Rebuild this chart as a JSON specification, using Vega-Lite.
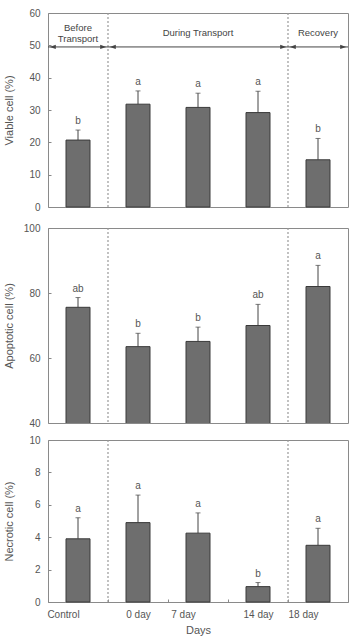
{
  "$schema": "https://vega.github.io/schema/vega-lite/v6.json",
  "padding": {"top": 7, "left": 2, "right": 3, "bottom": 0},
  "config": {
    "font": "Liberation Sans",
    "view": {"stroke": "#8a8a8a", "strokeWidth": 1},
    "axis": {
      "labelFont": "Liberation Sans",
      "labelFontSize": 10,
      "labelColor": "#555555",
      "titleFont": "Liberation Sans",
      "titleFontSize": 11,
      "titleFontWeight": "normal",
      "titleColor": "#555555",
      "grid": false,
      "domain": false,
      "tickColor": "#888888",
      "tickSize": -3,
      "labelOverlap": false
    },
    "axisY": {"labelPadding": 11, "titlePadding": 8, "minExtent": 26, "maxExtent": 26},
    "axisX": {"labelPadding": 10, "titlePadding": 5}
  },
  "datasets": {
    "cells": [
      {"cell": "Viable", "day": "Control", "mean": 20.7, "upper": 23.8, "group": "b"},
      {"cell": "Viable", "day": "0 day", "mean": 31.8, "upper": 35.9, "group": "a"},
      {"cell": "Viable", "day": "7 day", "mean": 30.8, "upper": 35.2, "group": "a"},
      {"cell": "Viable", "day": "14 day", "mean": 29.2, "upper": 35.8, "group": "a"},
      {"cell": "Viable", "day": "18 day", "mean": 14.6, "upper": 21.2, "group": "b"},
      {"cell": "Apoptotic", "day": "Control", "mean": 75.6, "upper": 78.6, "group": "ab"},
      {"cell": "Apoptotic", "day": "0 day", "mean": 63.5, "upper": 67.6, "group": "b"},
      {"cell": "Apoptotic", "day": "7 day", "mean": 65.1, "upper": 69.5, "group": "b"},
      {"cell": "Apoptotic", "day": "14 day", "mean": 70.0, "upper": 76.5, "group": "ab"},
      {"cell": "Apoptotic", "day": "18 day", "mean": 82.0, "upper": 88.5, "group": "a"},
      {"cell": "Necrotic", "day": "Control", "mean": 3.9, "upper": 5.2, "group": "a"},
      {"cell": "Necrotic", "day": "0 day", "mean": 4.9, "upper": 6.6, "group": "a"},
      {"cell": "Necrotic", "day": "7 day", "mean": 4.25, "upper": 5.5, "group": "a"},
      {"cell": "Necrotic", "day": "14 day", "mean": 0.95, "upper": 1.2, "group": "b"},
      {"cell": "Necrotic", "day": "18 day", "mean": 3.5, "upper": 4.55, "group": "a"}
    ],
    "bounds": [
      {"day": "0 day"},
      {"day": "18 day"}
    ],
    "periods": [
      {"period": "Before\nTransport", "start": 0, "end": 1},
      {"period": "During Transport", "start": 1, "end": 4},
      {"period": "Recovery", "start": 4, "end": 5}
    ]
  },
  "spacing": 21,
  "bounds": "flush",
  "vconcat": [
    {
      "width": 300,
      "height": 194,
      "resolve": {"scale": {"x": "independent"}},
      "layer": [
        {
          "layer": [
            {
              "data": {"name": "bounds"},
              "mark": {"type": "rule", "color": "#999999", "strokeDash": [2, 2], "strokeWidth": 1.2},
              "encoding": {
                "x": {"field": "day", "type": "nominal", "bandPosition": 0, "axis": null,
                      "scale": {"domain": ["Control", "0 day", "7 day", "14 day", "18 day"], "paddingInner": 0, "paddingOuter": 0}}
              }
            },
            {
              "data": {"name": "cells"},
              "transform": [{"filter": "datum.cell === 'Viable'"}],
              "layer": [
                {
                  "mark": {"type": "rule", "color": "#444444", "strokeWidth": 1},
                  "encoding": {
                    "x": {"field": "day", "type": "nominal", "axis": null},
                    "y": {"field": "mean", "type": "quantitative", "axis": {"title": "Viable cell (%)", "values": [0, 10, 20, 30, 40, 50, 60]}},
                    "y2": {"field": "upper"}
                  }
                },
                {
                  "mark": {"type": "tick", "color": "#444444", "thickness": 1, "size": 5},
                  "encoding": {
                    "x": {"field": "day", "type": "nominal", "axis": null},
                    "y": {"field": "upper", "type": "quantitative", "axis": {"title": "Viable cell (%)", "values": [0, 10, 20, 30, 40, 50, 60]}}
                  }
                },
                {
                  "mark": {"type": "bar", "fill": "#6e6e6e", "stroke": "#3a3a3a", "strokeWidth": 1, "width": {"band": 0.4}},
                  "encoding": {
                    "x": {"field": "day", "type": "nominal", "axis": null},
                    "y": {"field": "mean", "type": "quantitative", "scale": {"domain": [0, 60]},
                          "axis": {"title": "Viable cell (%)", "values": [0, 10, 20, 30, 40, 50, 60]}}
                  }
                },
                {
                  "mark": {"type": "text", "fontSize": 10, "color": "#555555", "baseline": "alphabetic", "dy": -6},
                  "encoding": {
                    "x": {"field": "day", "type": "nominal", "axis": null},
                    "y": {"field": "upper", "type": "quantitative", "axis": {"title": "Viable cell (%)", "values": [0, 10, 20, 30, 40, 50, 60]}},
                    "text": {"field": "group"}
                  }
                }
              ]
            }
          ]
        },
        {
          "data": {"name": "periods"},
          "layer": [
            {
              "mark": {"type": "rule", "color": "#444444", "strokeWidth": 1},
              "encoding": {
                "x": {"field": "start", "type": "quantitative", "scale": {"domain": [0, 5]}, "axis": null},
                "x2": {"field": "end"},
                "y": {"datum": 49.5, "type": "quantitative", "axis": {"title": "Viable cell (%)", "values": [0, 10, 20, 30, 40, 50, 60]}}
              }
            },
            {
              "transform": [{"fold": ["start", "end"], "as": ["edge", "pos"]}],
              "mark": {"type": "point", "filled": true, "opacity": 1, "color": "#444444", "size": 144},
              "encoding": {
                "x": {"field": "pos", "type": "quantitative", "axis": null},
                "y": {"datum": 49.5, "type": "quantitative", "axis": {"title": "Viable cell (%)", "values": [0, 10, 20, 30, 40, 50, 60]}},
                "shape": {"field": "edge", "type": "nominal", "legend": null,
                          "scale": {"domain": ["start", "end"], "range": ["M0.3,0L1.3,-0.35L1.3,0.35Z", "M-0.3,0L-1.3,-0.35L-1.3,0.35Z"]}}
              }
            },
            {
              "transform": [
                {"filter": "indexof(datum.period, '\\n') < 0"},
                {"fold": ["start", "end"], "as": ["edge", "pos"]}
              ],
              "mark": {"type": "text", "fontSize": 9.5, "color": "#444444", "baseline": "middle"},
              "encoding": {
                "x": {"field": "pos", "type": "quantitative", "aggregate": "mean", "axis": null},
                "y": {"datum": 53.8, "type": "quantitative", "axis": {"title": "Viable cell (%)", "values": [0, 10, 20, 30, 40, 50, 60]}},
                "text": {"field": "period", "type": "nominal"}
              }
            },
            {
              "transform": [
                {"filter": "indexof(datum.period, '\\n') >= 0"},
                {"fold": ["start", "end"], "as": ["edge", "pos"]}
              ],
              "mark": {"type": "text", "lineBreak": "\n", "lineHeight": 11, "fontSize": 9.5, "color": "#444444", "baseline": "middle", "dy": -5.5},
              "encoding": {
                "x": {"field": "pos", "type": "quantitative", "aggregate": "mean", "axis": null},
                "y": {"datum": 53.8, "type": "quantitative", "axis": {"title": "Viable cell (%)", "values": [0, 10, 20, 30, 40, 50, 60]}},
                "text": {"field": "period", "type": "nominal"}
              }
            }
          ]
        }
      ]
    },
    {
      "spacing": 17,
      "bounds": "flush",
      "vconcat": [
        {
          "width": 300,
          "height": 195,
          "layer": [
            {
              "data": {"name": "bounds"},
              "mark": {"type": "rule", "color": "#999999", "strokeDash": [2, 2], "strokeWidth": 1.2},
              "encoding": {
                "x": {"field": "day", "type": "nominal", "bandPosition": 0, "axis": null,
                      "scale": {"domain": ["Control", "0 day", "7 day", "14 day", "18 day"], "paddingInner": 0, "paddingOuter": 0}}
              }
            },
            {
              "data": {"name": "cells"},
              "transform": [{"filter": "datum.cell === 'Apoptotic'"}],
              "layer": [
                {
                  "mark": {"type": "rule", "color": "#444444", "strokeWidth": 1},
                  "encoding": {
                    "x": {"field": "day", "type": "nominal", "axis": null},
                    "y": {"field": "mean", "type": "quantitative", "axis": {"title": "Apoptotic cell (%)", "values": [40, 60, 80, 100]}},
                    "y2": {"field": "upper"}
                  }
                },
                {
                  "mark": {"type": "tick", "color": "#444444", "thickness": 1, "size": 5},
                  "encoding": {
                    "x": {"field": "day", "type": "nominal", "axis": null},
                    "y": {"field": "upper", "type": "quantitative", "axis": {"title": "Apoptotic cell (%)", "values": [40, 60, 80, 100]}}
                  }
                },
                {
                  "mark": {"type": "bar", "fill": "#6e6e6e", "stroke": "#3a3a3a", "strokeWidth": 1, "width": {"band": 0.4}, "clip": true},
                  "encoding": {
                    "x": {"field": "day", "type": "nominal", "axis": null},
                    "y": {"field": "mean", "type": "quantitative", "scale": {"domain": [40, 100], "zero": false},
                          "axis": {"title": "Apoptotic cell (%)", "values": [40, 60, 80, 100]}}
                  }
                },
                {
                  "mark": {"type": "text", "fontSize": 10, "color": "#555555", "baseline": "alphabetic", "dy": -6},
                  "encoding": {
                    "x": {"field": "day", "type": "nominal", "axis": null},
                    "y": {"field": "upper", "type": "quantitative", "axis": {"title": "Apoptotic cell (%)", "values": [40, 60, 80, 100]}},
                    "text": {"field": "group"}
                  }
                }
              ]
            }
          ]
        },
        {
          "width": 300,
          "height": 162,
          "layer": [
            {
              "data": {"name": "bounds"},
              "mark": {"type": "rule", "color": "#999999", "strokeDash": [2, 2], "strokeWidth": 1.2},
              "encoding": {
                "x": {"field": "day", "type": "nominal", "bandPosition": 0,
                      "scale": {"domain": ["Control", "0 day", "7 day", "14 day", "18 day"], "paddingInner": 0, "paddingOuter": 0},
                      "axis": {"title": "Days", "labelAngle": 0, "tickBand": "extent",
                               "labelOffset": {"condition": {"test": "datum.value === '0 day' || datum.value === '14 day'", "value": 0}, "value": -15}}}
              }
            },
            {
              "data": {"name": "cells"},
              "transform": [{"filter": "datum.cell === 'Necrotic'"}],
              "layer": [
                {
                  "mark": {"type": "rule", "color": "#444444", "strokeWidth": 1},
                  "encoding": {
                    "x": {"field": "day", "type": "nominal",
                          "axis": {"title": "Days", "labelAngle": 0, "tickBand": "extent",
                                   "labelOffset": {"condition": {"test": "datum.value === '0 day' || datum.value === '14 day'", "value": 0}, "value": -15}}},
                    "y": {"field": "mean", "type": "quantitative", "axis": {"title": "Necrotic cell (%)", "values": [0, 2, 4, 6, 8, 10]}},
                    "y2": {"field": "upper"}
                  }
                },
                {
                  "mark": {"type": "tick", "color": "#444444", "thickness": 1, "size": 5},
                  "encoding": {
                    "x": {"field": "day", "type": "nominal",
                          "axis": {"title": "Days", "labelAngle": 0, "tickBand": "extent",
                                   "labelOffset": {"condition": {"test": "datum.value === '0 day' || datum.value === '14 day'", "value": 0}, "value": -15}}},
                    "y": {"field": "upper", "type": "quantitative", "axis": {"title": "Necrotic cell (%)", "values": [0, 2, 4, 6, 8, 10]}}
                  }
                },
                {
                  "mark": {"type": "bar", "fill": "#6e6e6e", "stroke": "#3a3a3a", "strokeWidth": 1, "width": {"band": 0.4}},
                  "encoding": {
                    "x": {"field": "day", "type": "nominal",
                          "axis": {"title": "Days", "labelAngle": 0, "tickBand": "extent",
                                   "labelOffset": {"condition": {"test": "datum.value === '0 day' || datum.value === '14 day'", "value": 0}, "value": -15}}},
                    "y": {"field": "mean", "type": "quantitative", "scale": {"domain": [0, 10]},
                          "axis": {"title": "Necrotic cell (%)", "values": [0, 2, 4, 6, 8, 10]}}
                  }
                },
                {
                  "mark": {"type": "text", "fontSize": 10, "color": "#555555", "baseline": "alphabetic", "dy": -6},
                  "encoding": {
                    "x": {"field": "day", "type": "nominal",
                          "axis": {"title": "Days", "labelAngle": 0, "tickBand": "extent",
                                   "labelOffset": {"condition": {"test": "datum.value === '0 day' || datum.value === '14 day'", "value": 0}, "value": -15}}},
                    "y": {"field": "upper", "type": "quantitative", "axis": {"title": "Necrotic cell (%)", "values": [0, 2, 4, 6, 8, 10]}},
                    "text": {"field": "group"}
                  }
                }
              ]
            }
          ]
        }
      ]
    }
  ]
}
